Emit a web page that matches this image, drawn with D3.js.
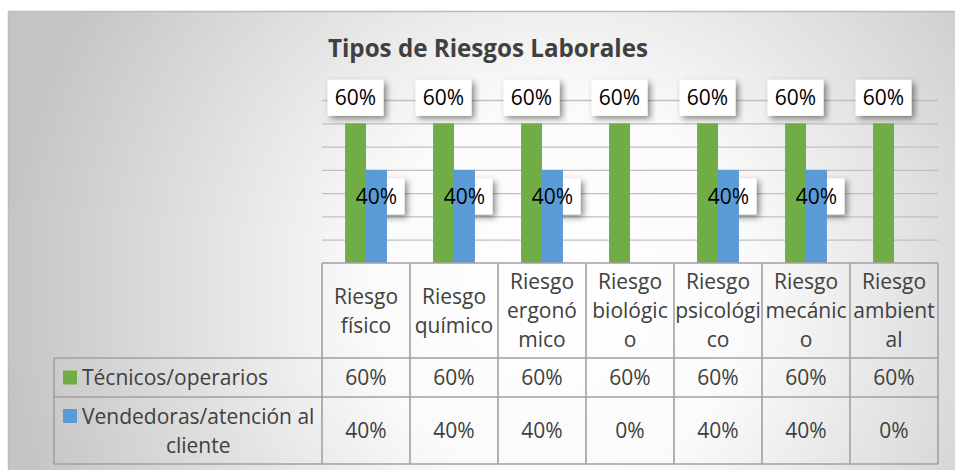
<!DOCTYPE html>
<html>
<head>
<meta charset="utf-8">
<script src="https://cdn.jsdelivr.net/npm/d3@7"></script>
<style>
  body { margin: 0; background: #fff; }
  svg { display: block; }
</style>
</head>
<body>
<svg id="chart" width="955" height="470"></svg>
<script>
// data
const categories = ["Riesgo físico", "Riesgo químico", "Riesgo ergonómico", "Riesgo biológico",
  "Riesgo psicológico", "Riesgo mecánico", "Riesgo ambiental"];
// header cells wrap the same way the original table does
const headerLines = [["Riesgo", "físico"], ["Riesgo", "químico"], ["Riesgo", "ergonó", "mico"],
  ["Riesgo", "biológic", "o"], ["Riesgo", "psicológi", "co"], ["Riesgo", "mecánic", "o"], ["Riesgo", "ambient", "al"]];
const seriesNames = ["Técnicos/operarios", "Vendedoras/atención al cliente"];
const legendLines = [["Técnicos/operarios"], ["Vendedoras/atención al", "cliente"]];
const tecnicos = [0.6, 0.6, 0.6, 0.6, 0.6, 0.6, 0.6];
const vendedoras = [0.4, 0.4, 0.4, 0, 0.4, 0.4, 0];
const seriesValues = [tecnicos, vendedoras];
const colors = ["#70ad47", "#5b9bd5"];

const font = "'Open Sans', 'Noto Sans', sans-serif";
const textGray = "#404040";
const lineGray = "#a0a0a0";

const svg = d3.select("#chart");

// background + frame
const defs = svg.append("defs");
const grad = defs.append("radialGradient").attr("id", "bg")
  .attr("gradientUnits", "userSpaceOnUse")
  .attr("cx", 560).attr("cy", 290).attr("r", 560);
grad.append("stop").attr("offset", 0).attr("stop-color", "#ffffff");
grad.append("stop").attr("offset", 0.35).attr("stop-color", "#fafafa");
grad.append("stop").attr("offset", 1).attr("stop-color", "#c4c4c4");

const shadow = defs.append("filter").attr("id", "shadow")
  .attr("x", "-30%").attr("y", "-30%").attr("width", "160%").attr("height", "170%");
shadow.append("feDropShadow").attr("dx", 3).attr("dy", 3).attr("stdDeviation", 3)
  .attr("flood-color", "#000").attr("flood-opacity", 0.45);

svg.append("rect").attr("x", 8.5).attr("y", 11.5).attr("width", 960).attr("height", 470)
  .attr("fill", "url(#bg)").attr("stroke", "#bcbcbc").attr("stroke-width", 1.5);

// title
svg.append("text").attr("x", 488).attr("y", 57)
  .attr("text-anchor", "middle").attr("font-family", font)
  .attr("font-weight", "bold").attr("font-size", 25).attr("fill", textGray)
  .attr("textLength", 320).attr("lengthAdjust", "spacingAndGlyphs")
  .text("Tipos de Riesgos Laborales");

// scales
const x = d3.scaleBand().domain(categories).range([322, 938]);
const bw = x.bandwidth();
const xs = d3.scaleBand().domain(seriesNames).range([bw * 0.262, bw * 0.738]);
const y = d3.scaleLinear().domain([0, 0.7]).range([263, 100]);

// gridlines
const grid = svg.append("g").attr("transform", "translate(322,0)")
  .call(d3.axisLeft(y).tickValues(y.ticks(7).filter(d => d > 0))
    .tickSize(-(x.range()[1] - x.range()[0])).tickFormat(""));
grid.select(".domain").remove();
grid.selectAll("line").attr("stroke", "#c0c0c0").attr("stroke-width", 1.3);

// label positions: first series above the bar, second one just below its top
const labelOffset = [-25.5, 26.5];
const labels = [];
seriesValues.forEach((vals, s) => {
  vals.forEach((v, i) => {
    if (v > 0) labels.push({
      cx: x(categories[i]) + xs(seriesNames[s]) + xs.bandwidth() / 2,
      cy: y(v) + labelOffset[s],
      text: d3.format(".0%")(v)
    });
  });
});

svg.append("g").selectAll("rect").data(labels).join("rect")
  .attr("x", d => d.cx - 28).attr("y", d => d.cy - 18)
  .attr("width", 56).attr("height", 36)
  .attr("fill", "#fff").attr("filter", "url(#shadow)");

// bars
seriesValues.forEach((vals, s) => {
  svg.append("g").selectAll("rect").data(vals).join("rect")
    .attr("x", (d, i) => x(categories[i]) + xs(seriesNames[s]))
    .attr("y", d => y(d))
    .attr("width", xs.bandwidth())
    .attr("height", d => y(0) - y(d))
    .attr("fill", colors[s]);
});

svg.append("g").selectAll("text").data(labels).join("text")
  .attr("x", d => d.cx).attr("y", d => d.cy + 7.5)
  .attr("text-anchor", "middle").attr("font-family", font).attr("font-size", 21)
  .attr("fill", "#000").text(d => d.text);

// data table
const headerTop = 263, headerBottom = 358, rowBottoms = [397, 464], legendLeft = 54;
const right = x.range()[1];
const table = svg.append("g").attr("stroke", lineGray).attr("stroke-width", 1.6);
const hLines = [[x.range()[0], headerTop], [legendLeft, headerBottom], [legendLeft, rowBottoms[0]], [legendLeft, rowBottoms[1]]];
table.selectAll(".h").data(hLines).join("line")
  .attr("x1", d => d[0]).attr("x2", right).attr("y1", d => d[1]).attr("y2", d => d[1]);
const vLines = categories.map(c => x(c)).concat([right]);
table.selectAll(".v").data(vLines).join("line")
  .attr("x1", d => d).attr("x2", d => d).attr("y1", headerTop).attr("y2", rowBottoms[1]);
table.append("line").attr("x1", legendLeft).attr("x2", legendLeft)
  .attr("y1", headerBottom).attr("y2", rowBottoms[1]);

const txt = svg.append("g").attr("font-family", font).attr("font-size", 21).attr("fill", textGray);
const lineH = 29;
const headerMid = (headerTop + headerBottom) / 2;
categories.forEach((c, i) => {
  const lines = headerLines[i];
  lines.forEach((l, k) => {
    txt.append("text")
      .attr("x", x(c) + bw / 2)
      .attr("y", headerMid + (k - (lines.length - 1) / 2) * lineH + 7.5)
      .attr("text-anchor", "middle").text(l);
  });
});

const rowTops = [headerBottom, rowBottoms[0]];
seriesValues.forEach((vals, s) => {
  const mid = (rowTops[s] + rowBottoms[s]) / 2;
  vals.forEach((v, i) => {
    txt.append("text").attr("x", x(categories[i]) + bw / 2).attr("y", mid + 7.5)
      .attr("text-anchor", "middle").text(d3.format(".0%")(v));
  });
  // legend cell
  const lines = legendLines[s];
  const first = mid + 7.5 - (lines.length - 1) / 2 * lineH;
  const t0 = txt.append("text").attr("x", 82).attr("y", first).text(lines[0]);
  const w0 = t0.node().getComputedTextLength();
  lines.slice(1).forEach((l, k) => {
    txt.append("text").attr("x", 82 + w0 / 2).attr("y", first + (k + 1) * lineH)
      .attr("text-anchor", "middle").text(l);
  });
  svg.append("rect").attr("x", 63).attr("y", first - 14.5)
    .attr("width", 14).attr("height", 14).attr("fill", colors[s]);
});
</script>
</body>
</html>
